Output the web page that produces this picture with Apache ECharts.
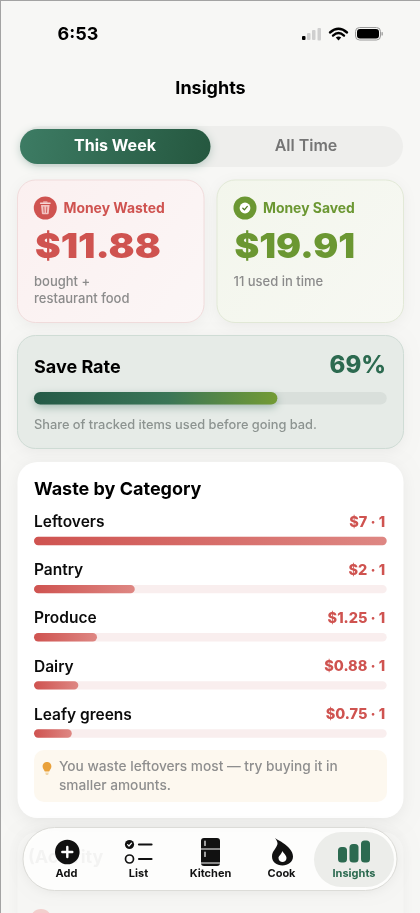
<!DOCTYPE html>
<html><head><meta charset="utf-8">
<style>html,body{margin:0;padding:0;background:#f7f7f5}#c{width:420px;height:913px}</style>
<script src="https://cdn.jsdelivr.net/npm/echarts@6/dist/echarts.min.js"></script>
</head><body><div id="c"></div>
<script>
const categories = ['Leftovers','Pantry','Produce','Dairy','Leafy greens'];
const wasteValues = [7,2,1.25,0.88,0.75];
const itemCounts = [1,1,1,1,1];
const wasteLabels = ['$7','$2','$1.25','$0.88','$0.75'];
const wasteMax = 7;
const saveRate = [69];
const saveRateLabel = ['Rate'];

const G = echarts.graphic.LinearGradient;
const FONT = 'Inter';
const INK = '#0b0b0b', RED = '#cf5350', GREEN = '#6b9732', DEEP = '#2c6a50';
function T(text,x,y,size,weight,fill,align,extra){
  return Object.assign({type:'text',x,y:y+0.8,z:10,style:{text,fontFamily:FONT,fontSize:size,fontWeight:weight,fill,align:align||'left',verticalAlign:'middle'}},extra||{});
}
function R(x,y,w,h,r,fill,stroke,extra){
  const s=Object.assign({fill},stroke?{stroke,lineWidth:1}:{}, (extra&&extra.style)||{});
  return {type:'rect',z:(extra&&extra.z)||1,shape:{x,y,width:w,height:h,r},style:s};
}
function C(cx,cy,r,fill,stroke,lw,z){return {type:'circle',z:z||11,shape:{cx,cy,r},style:stroke?{fill:fill||'none',stroke,lineWidth:lw}:{fill}};}
let pathId=0;
function P(d,fill,stroke,lw,z){
  const name='iconPath'+(pathId++);
  echarts.graphic.registerShape(name,echarts.graphic.extendPath(d,{}));
  return {type:name,z:z||11,style:stroke?{fill:fill||'none',stroke,lineWidth:lw,lineCap:'round',lineJoin:'round'}:{fill}};
}
function L(x1,y1,x2,y2,stroke,lw,z){return {type:'line',z:z||11,shape:{x1,y1,x2,y2},style:{stroke,lineWidth:lw,lineCap:'round'}};}

const elements=[
  {type:'rect',z:0,shape:{x:0,y:0,width:420,height:1},style:{fill:'#a3a3a3'}},
  {type:'rect',z:0,shape:{x:0,y:0,width:1,height:913},style:{fill:'#a3a3a3'}},
  T('6:53',78,33.5,18,700,'#000','center'),
  R(302,36,3.5,4,1,'#000',null,{z:11}),R(307,33,3.5,7,1,'#cfcfcf',null,{z:11}),R(312,30,3.5,10,1,'#cfcfcf',null,{z:11}),R(317.5,28,3.5,12.5,1,'#cfcfcf',null,{z:11}),
  P('M330 32.5 Q338.5 25 347 32.5','none','#000',2.4),P('M333 35.6 Q338.5 30.6 344 35.6','none','#000',2.4),
  P('M335.8 37.6 L338.5 40.6 L341.2 37.6 Q338.5 35.4 335.8 37.6 Z','#000'),
  {type:'rect',z:11,shape:{x:355.5,y:27.5,width:25,height:12.5,r:4},style:{fill:'none',stroke:'#9a9a9a',lineWidth:1}},
  R(357,29,22,9.5,3,'#000',null,{z:12}),R(381.5,32,1.3,3.6,0.6,'#9a9a9a',null,{z:11}),
  T('Insights',210.5,87.5,18,700,'#000','center'),
  R(20,126,383,41,20.5,'#eeeeec'),
  {type:'rect',z:3,shape:{x:20,y:129,width:190.5,height:35,r:17.5},style:{fill:new G(0,0,1,1,[{offset:0,color:'#3d7c64'},{offset:1,color:'#25573f'}]),shadowBlur:10,shadowColor:'rgba(40,100,80,0.28)',shadowOffsetY:2}},
  T('This Week',115,145.5,16,700,'#fff','center'),
  T('All Time',306,145.5,16,600,'#757575','center'),
  {type:'rect',z:1,shape:{x:17.5,y:180,width:186.5,height:142.5,r:18},style:{fill:new G(0,0,1,1,[{offset:0,color:'#fbf0f0'},{offset:1,color:'#fbf6f6'}]),stroke:'#f1dcdc',lineWidth:1,shadowBlur:14,shadowColor:'rgba(0,0,0,0.05)',shadowOffsetY:3}},
  {type:'rect',z:1,shape:{x:217,y:180,width:186.5,height:142.5,r:18},style:{fill:new G(0,0,1,1,[{offset:0,color:'#f3f6ec'},{offset:1,color:'#f7f8f3'}]),stroke:'#e2e9d7',lineWidth:1,shadowBlur:14,shadowColor:'rgba(0,0,0,0.05)',shadowOffsetY:3}},
  C(45.3,208,11.5,RED),
  P('M41 205 L49.6 205 L48.7 213.6 Q48.6 214.3 47.8 214.3 L42.8 214.3 Q42 214.3 41.9 213.6 Z','#f2c3c1',null,null,12),
  L(40.6,203.2,50,203.2,'#f6d5d3',1.5,12),
  L(43.6,202,47,202,'#f6d5d3',1.2,12),
  L(43.8,207,44.1,212.4,RED,0.9,13),L(46.8,207,46.5,212.4,RED,0.9,13),
  T('Money Wasted',63.5,207.8,13.9,700,RED),
  T('$11.88',35,247,33.5,900,RED,'left',{scaleX:1.15}),
  T('bought +',34,281.5,13,500,'#8b8b8b'),
  T('restaurant food',34,298,13,500,'#8b8b8b'),
  C(245,208,11.5,GREEN),
  C(245,208,5.4,'#fff',null,null,12),
  P('M242.8 208.2 L244.4 209.8 L247.3 206.4','none','#4f7a22',1.3,13),
  T('Money Saved',263,207.8,13.9,700,GREEN),
  T('$19.91',234.5,247,33.5,900,GREEN,'left',{scaleX:1.11}),
  T('11 used in time',233.5,281.5,13,500,'#8b8b8b'),
  {type:'rect',z:1,shape:{x:17.5,y:335.5,width:386,height:113,r:18},style:{fill:'#e6ebe7',stroke:'#cfdcd5',lineWidth:1,shadowBlur:14,shadowColor:'rgba(0,0,0,0.05)',shadowOffsetY:3}},
  T('Save Rate',34,366.5,18,700,'#000'),
  T(saveRate[0]+'%',386,365,24,800,DEEP,'right'),
  T('Share of tracked items used before going bad.',34,424,12.8,500,'#8c9390'),
  {type:'rect',z:1,shape:{x:17.5,y:462,width:386,height:356,r:20},style:{fill:'#fff',shadowBlur:16,shadowColor:'rgba(0,0,0,0.06)',shadowOffsetY:3}},
  T('Waste by Category',34,488.5,18,700,'#000'),
  R(34,750,353,52,10,'#fdf8ef'),
  P('M47 762 C43.9 762 42.6 764.4 42.6 766.4 C42.6 768.5 44.4 770 44.8 771.6 L49.2 771.6 C49.6 770 51.4 768.5 51.4 766.4 C51.4 764.4 50.1 762 47 762 Z','#e9a13b'),
  P('M45.2 772.6 L48.8 772.6 L48.1 775 L45.9 775 Z','#f2d6a6'),
  T('You waste leftovers most — try buying it in',59,766.5,13.7,500,'#8e8e8e'),
  T('smaller amounts.',59,785.5,13.7,500,'#8e8e8e'),
  {type:'rect',z:20,shape:{x:17.5,y:832,width:386,height:100,r:20},style:{fill:'#f6f6f4',shadowBlur:14,shadowColor:'rgba(0,0,0,0.04)'}},
  {type:'circle',z:21,shape:{cx:41,cy:920,r:11},style:{fill:'#f3cfcd'}},
  {type:'rect',z:30,shape:{x:23,y:827.5,width:374,height:63,r:31.5},style:{fill:'rgba(254,254,253,0.95)',stroke:'#dcdcd8',lineWidth:1,shadowBlur:12,shadowColor:'rgba(0,0,0,0.06)',shadowOffsetY:2}},
  {type:'text',z:31,x:28,y:858,style:{text:'(Activity',fontFamily:FONT,fontSize:18,fontWeight:700,fill:'rgba(120,120,120,0.07)',verticalAlign:'middle',shadowBlur:4,shadowColor:'rgba(120,120,120,0.14)'}},
  R(314,832,80,55,27.5,'#ecedea',null,{z:31}),
  C(67.3,852,12.3,'#111',null,null,32),
  L(67.3,847,67.3,857,'#fff',2.4,33),L(62.3,852,72.3,852,'#fff',2.4,33),
  T('Add',66.5,873,11,700,'#111','center',{z:33}),
  C(129.5,844.5,4.6,'#111',null,null,32),P('M127.6 844.6 L129 846 L131.5 843.2','none','#fff',1.2,33),
  L(139,844.5,151.5,844.5,'#111',2.2,32),
  C(129.5,859,4,null,'#111',1.7,32),
  L(139,859,151.5,859,'#111',2.2,32),
  T('List',138.5,873,11,700,'#111','center',{z:33}),
  R(201,838,19,28,3,'#111',null,{z:32}),
  L(201,849,220,849,'#fff',1,33),L(201,863,220,863,'#fff',1,33),
  L(205,841,205,845.5,'#fff',1.2,33),L(205,852,205,856.5,'#fff',1.2,33),
  T('Kitchen',210.5,873,11,700,'#111','center',{z:33}),
  P('M275 838 C278 840.5 280 840.5 283 843 C288 846.5 293 851 293 856.5 C293 862 288 865.5 282.5 865.5 C276.5 865.5 272 862 272 856.5 C272 851 276.5 848.5 277.5 844 C277.7 842 276.5 840 275 838 Z','#111',null,null,32),
  P('M282.5 851 C283.5 853.5 286.5 855 286.5 858 C286.5 860.5 284.5 862 282.5 862 C280.5 862 278.5 860.5 278.5 858 C278.5 856 280.5 855.5 282.5 851 Z','#fff',null,null,33),
  T('Cook',281.5,873,11,700,'#111','center',{z:33}),
  R(338,847,9,15.5,3.5,DEEP,null,{z:32}),R(349.5,844,9,18.5,3.5,DEEP,null,{z:32}),R(361,840.5,9,22,3.5,DEEP,null,{z:32}),
  T('Insights',354,873,11,700,DEEP,'center',{z:33}),
];

const barFill = new G(0,0,1,0,[{offset:0,color:'#cf5350'},{offset:1,color:'#de8783'}]);
const saveFill = new G(0,0,1,0,[{offset:0,color:'#245a47'},{offset:0.55,color:'#3a7657'},{offset:1,color:'#739b34'}]);
const aboveBar = v => v + '\n ';

const chart = echarts.init(document.getElementById('c'),null,{renderer:'canvas',width:420,height:913});
chart.setOption({
  animation:false,
  backgroundColor:'#f7f7f5',
  tooltip:{show:false},
  graphic:{elements},
  grid:[
    {left:34,top:392,width:352.7,height:12.5},
    {left:34,top:517,width:352.7,height:240.5}
  ],
  xAxis:[
    {gridIndex:0,type:'value',min:0,max:100,show:false},
    {gridIndex:1,type:'value',min:0,max:wasteMax,show:false}
  ],
  yAxis:[
    {gridIndex:0,type:'category',data:saveRateLabel,show:false},
    {gridIndex:1,type:'category',inverse:true,position:'left',data:categories,z:6,
      axisLine:{show:false},axisTick:{show:false},splitLine:{show:false},
      axisLabel:{inside:true,margin:0,interval:0,hideOverlap:false,showMinLabel:true,showMaxLabel:true,align:'left',verticalAlign:'middle',lineHeight:37,formatter:aboveBar,
        fontFamily:FONT,fontSize:15.5,fontWeight:600,color:INK}},
    {gridIndex:1,type:'category',inverse:true,position:'right',z:6,
      data:wasteLabels.map((l,i)=>l+' · '+itemCounts[i]),
      axisLine:{show:false},axisTick:{show:false},splitLine:{show:false},
      axisLabel:{inside:true,margin:1.5,interval:0,hideOverlap:false,showMinLabel:true,showMaxLabel:true,align:'right',verticalAlign:'middle',lineHeight:37,formatter:aboveBar,
        fontFamily:FONT,fontSize:14.5,fontWeight:800,color:RED}}
  ],
  series:[
    {type:'bar',xAxisIndex:0,yAxisIndex:0,data:saveRate,barWidth:12.5,silent:true,z:5,
      showBackground:true,backgroundStyle:{color:'#d9dfdb',borderRadius:6.25},
      itemStyle:{color:saveFill,borderRadius:6.25,shadowBlur:8,shadowColor:'rgba(40,100,80,0.35)',shadowOffsetY:3}},
    {type:'bar',xAxisIndex:1,yAxisIndex:1,data:wasteValues,barWidth:8.4,silent:true,z:5,
      showBackground:true,backgroundStyle:{color:'#f9eeee',borderRadius:4.2},
      itemStyle:{color:barFill,borderRadius:4.2}}
  ]
});
</script></body></html>
